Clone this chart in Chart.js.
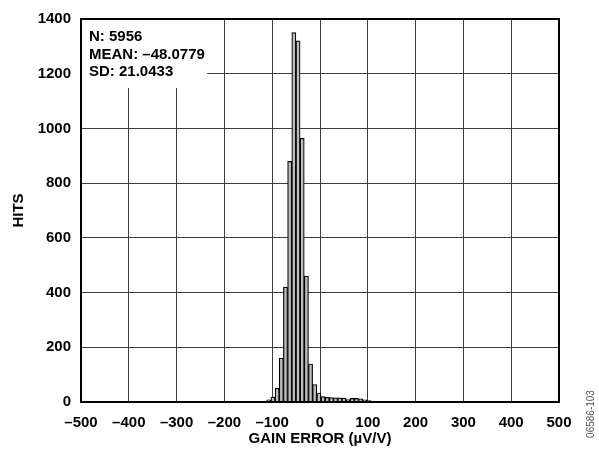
<!DOCTYPE html>
<html>
<head>
<meta charset="utf-8">
<script src="https://cdn.jsdelivr.net/npm/chart.js@4"></script>
<style>
  html, body { margin: 0; padding: 0; background: #fff; }
  #wrap { width: 599px; height: 455px; }
</style>
</head>
<body>
<div id="wrap"><canvas id="chart" width="599" height="455"></canvas></div>
<script>
// Histogram bins: centre of each gain-error bin (µV/V) and hit count per bin
const binCenters = [-115.8, -107.1, -98.3, -89.6, -80.9, -72.2, -63.4, -54.7, -46.0, -37.3,
                    -28.5, -19.8, -11.1, -2.4, 6.4, 15.1, 23.8, 32.5, 41.3, 50.0,
                    58.7, 67.4, 76.2, 84.9, 93.6, 102.3, 111.0];
const hits = [3, 8, 18, 50, 160, 420, 880, 1350, 1320, 964,
              460, 139, 64, 33, 20, 17, 16, 15, 15, 14,
              9, 13, 13, 12, 8, 5, 3];

// Axis ranges and tick spacing
const xRange = [-500, 500];
const xStep = 100;
const yRange = [0, 1400];
const yStep = 200;

// Summary statistics shown in the corner box
const statLines = ['N: 5956', 'MEAN: \u201348.0779', 'SD: 21.0433'];
const statBoxCorner = { x: -236, y: 1148 };   // lower-right corner of the box, in data units

const xTitle = 'GAIN ERROR (\u00B5V/V)';
const yTitle = 'HITS';
const figureCode = '06586-103';

const FONT = "'Liberation Sans', Arial, Helvetica, sans-serif";

const points = binCenters.map((x, i) => ({ x: x, y: hits[i] }));

// White box with the statistics, drawn over the grid
const statsBox = {
  id: 'statsBox',
  beforeDatasetsDraw(chart) {
    const { ctx, chartArea, scales } = chart;
    const right = scales.x.getPixelForValue(statBoxCorner.x);
    const bottom = scales.y.getPixelForValue(statBoxCorner.y);
    ctx.save();
    ctx.fillStyle = '#ffffff';
    ctx.fillRect(chartArea.left, chartArea.top, right - chartArea.left, bottom - chartArea.top);
    ctx.fillStyle = '#000';
    ctx.font = 'bold 15px ' + FONT;
    ctx.textBaseline = 'alphabetic';
    ctx.textAlign = 'left';
    statLines.forEach((line, i) => {
      ctx.fillText(line, chartArea.left + 8, chartArea.top + 22 + i * 17.6);
    });
    ctx.restore();
  }
};

// Heavy frame round the plot area
const frame = {
  id: 'frame',
  afterDatasetsDraw(chart) {
    const { ctx, chartArea } = chart;
    ctx.save();
    ctx.strokeStyle = '#000';
    ctx.lineWidth = 2;
    ctx.strokeRect(chartArea.left, chartArea.top, chartArea.right - chartArea.left, chartArea.bottom - chartArea.top);
    ctx.restore();
  }
};

// Small vertical figure code at the right edge
const codeLabel = {
  id: 'codeLabel',
  afterDraw(chart) {
    const { ctx } = chart;
    ctx.save();
    ctx.translate(591, 414);
    ctx.rotate(-Math.PI / 2);
    ctx.fillStyle = '#555';
    ctx.font = '10px ' + FONT;
    ctx.textAlign = 'center';
    ctx.textBaseline = 'middle';
    ctx.fillText(figureCode, 0, 0);
    ctx.restore();
  }
};

new Chart(document.getElementById('chart'), {
  type: 'bar',
  data: {
    datasets: [{
      data: points,
      backgroundColor: '#bdbdbd',
      borderColor: '#000',
      borderWidth: 1.2,
      borderSkipped: 'start',
      barPercentage: 1.0,
      categoryPercentage: 1.0
    }]
  },
  options: {
    responsive: false,
    animation: false,
    devicePixelRatio: 1,
    layout: { padding: { top: 19, right: 40, left: 0, bottom: 0 } },
    plugins: {
      legend: { display: false },
      tooltip: { enabled: false }
    },
    scales: {
      x: {
        type: 'linear',
        min: xRange[0],
        max: xRange[1],
        offset: false,
        grid: { color: '#3c3c3c', lineWidth: 1, drawTicks: false, offset: false },
        border: { display: false },
        ticks: {
          stepSize: xStep,
          padding: 12,
          color: '#000',
          font: { family: FONT, size: 15, weight: 'bold' },
          maxRotation: 0,
          callback: (v) => String(v).replace('-', '\u2013')
        },
        title: {
          display: true,
          text: xTitle,
          color: '#000',
          font: { family: FONT, size: 15, weight: 'bold' },
          padding: { top: 0, bottom: 7 }
        },
        afterFit(scale) { scale.height = 53; }
      },
      y: {
        min: yRange[0],
        max: yRange[1],
        grid: { color: '#3c3c3c', lineWidth: 1, drawTicks: false },
        border: { display: false },
        ticks: {
          stepSize: yStep,
          padding: 10,
          color: '#000',
          font: { family: FONT, size: 15, weight: 'bold' },
          callback: (v) => String(v)
        },
        title: {
          display: true,
          text: yTitle,
          color: '#000',
          font: { family: FONT, size: 15, weight: 'bold' },
          padding: { top: 10, bottom: 0 }
        },
        afterFit(scale) { scale.width = 81; }
      }
    }
  },
  plugins: [statsBox, frame, codeLabel]
});
</script>
</body>
</html>
